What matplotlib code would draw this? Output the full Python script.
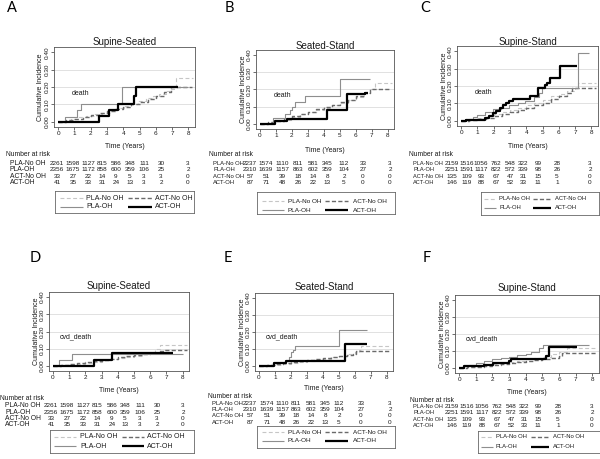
import matplotlib
matplotlib.use("Agg")
import matplotlib.pyplot as plt

plt.rcParams['font.family'] = ['Liberation Sans', 'DejaVu Sans']

# ---------------- DATA ----------------
x_ticks = [0, 1, 2, 3, 4, 5, 6, 7, 8]
y_ticks = [0.0, 0.1, 0.2, 0.3, 0.4]
y_tick_labels = ["0.00", "0.10", "0.20", "0.30", "0.40"]
series_names = ["PLA-No OH", "ACT-No OH", "PLA-OH", "ACT-OH"]
table_rows = ["PLA-No OH", "PLA-OH", "ACT-No OH", "ACT-OH"]
panel_letters = ["A", "B", "C", "D", "E", "F"]
panel_titles = ["Supine-Seated", "Seated-Stand", "Supine-Stand",
                "Supine-Seated", "Seated-Stand", "Supine-Stand"]
panel_outcomes = ["death", "death", "death", "cvd_death", "cvd_death", "cvd_death"]

# Panel A (death, supine-seated)
a_pla_no_t = [0, 0.4, 0.8, 1.2, 1.7, 2.2, 2.7, 3.2, 3.7, 4.1, 4.5, 4.9, 5.4, 5.8, 6.2, 6.6, 6.9, 7.1, 7.25, 8.3]
a_pla_no_y = [0, 0.005, 0.015, 0.025, 0.035, 0.045, 0.053, 0.065, 0.078, 0.09, 0.105, 0.12, 0.135, 0.148, 0.16, 0.175, 0.19, 0.205, 0.25, 0.25]
a_act_no_t = [0, 0.5, 1.0, 1.5, 2.0, 2.5, 3.0, 3.5, 4.0, 4.5, 5.0, 5.5, 6.0, 6.5, 6.9, 8.2]
a_act_no_y = [0, 0.008, 0.018, 0.03, 0.04, 0.05, 0.06, 0.072, 0.085, 0.1, 0.115, 0.13, 0.15, 0.17, 0.2, 0.2]
a_pla_oh_t = [0, 0.4, 1.15, 1.4, 3.9, 8.0]
a_pla_oh_y = [0, 0.03, 0.065, 0.105, 0.2, 0.2]
a_act_oh_t = [0, 2.5, 3.1, 3.65, 4.65, 4.75, 7.35]
a_act_oh_y = [0, 0.033, 0.065, 0.102, 0.15, 0.2, 0.2]

# Panel B (death, seated-stand)
b_pla_no_t = [0, 0.5, 1.0, 1.5, 2.0, 2.5, 3.0, 3.5, 4.0, 4.5, 5.0, 5.5, 6.0, 6.5, 6.9, 7.2, 8.3]
b_pla_no_y = [0, 0.005, 0.015, 0.025, 0.04, 0.055, 0.068, 0.08, 0.095, 0.108, 0.123, 0.14, 0.158, 0.18, 0.2, 0.24, 0.24]
b_act_no_t = [0, 0.5, 1.0, 1.5, 2.0, 2.5, 3.0, 3.5, 4.0, 4.5, 5.0, 5.5, 6.0, 6.5, 6.9, 8.2]
b_act_no_y = [0, 0.008, 0.018, 0.03, 0.045, 0.058, 0.07, 0.085, 0.1, 0.11, 0.125, 0.14, 0.16, 0.18, 0.205, 0.205]
b_pla_oh_t = [0, 0.8, 1.55, 1.85, 2.0, 2.2, 2.85, 5.0, 6.9]
b_pla_oh_y = [0, 0.033, 0.055, 0.08, 0.10, 0.13, 0.165, 0.26, 0.26]
b_act_oh_t = [0, 0.95, 1.7, 4.2, 5.45, 6.6, 6.8]
b_act_oh_y = [0, 0.014, 0.028, 0.08, 0.172, 0.178, 0.178]

# Panel C (death, supine-stand)
c_pla_no_t = [0, 0.5, 1.0, 1.5, 2.0, 2.5, 3.0, 3.5, 4.0, 4.5, 5.0, 5.5, 6.0, 6.5, 7.0, 7.2, 8.3]
c_pla_no_y = [0, 0.005, 0.015, 0.025, 0.037, 0.05, 0.062, 0.075, 0.088, 0.1, 0.12, 0.14, 0.155, 0.17, 0.19, 0.22, 0.22]
c_act_no_t = [0, 0.5, 1.0, 1.5, 2.0, 2.5, 3.0, 3.5, 4.0, 4.5, 5.0, 5.5, 6.0, 6.5, 6.8, 8.3]
c_act_no_y = [0, 0.003, 0.01, 0.018, 0.027, 0.037, 0.048, 0.06, 0.075, 0.09, 0.105, 0.125, 0.14, 0.16, 0.19, 0.19]
c_pla_oh_t = [0, 0.2, 0.5, 0.72, 1.0, 1.45, 1.95, 2.45, 2.95, 3.5, 3.9, 4.5, 4.8, 4.95, 7.2, 7.85]
c_pla_oh_y = [0, 0.005, 0.012, 0.02, 0.035, 0.05, 0.065, 0.075, 0.09, 0.105, 0.115, 0.135, 0.16, 0.19, 0.388, 0.388]
c_act_oh_t = [0, 0.3, 1.48, 1.74, 1.95, 2.15, 2.36, 2.56, 2.73, 2.97, 3.18, 4.2, 4.72, 5.13, 5.27, 5.44, 6.05, 7.14]
c_act_oh_y = [0, 0.006, 0.016, 0.03, 0.043, 0.058, 0.074, 0.09, 0.1, 0.113, 0.124, 0.142, 0.186, 0.206, 0.22, 0.247, 0.316, 0.316]

# Panel D (cvd_death, supine-seated)
d_pla_no_t = [0, 0.5, 1.0, 1.5, 2.0, 2.5, 3.0, 3.5, 4.0, 4.5, 5.0, 5.5, 6.0, 6.3, 6.6, 8.3]
d_pla_no_y = [0, 0.003, 0.008, 0.013, 0.018, 0.025, 0.032, 0.04, 0.047, 0.053, 0.06, 0.067, 0.08, 0.1, 0.123, 0.123]
d_act_no_t = [0, 0.5, 1.0, 1.5, 2.0, 2.5, 3.0, 3.5, 4.0, 4.5, 5.0, 5.5, 6.0, 6.5, 6.9, 8.3]
d_act_no_y = [0, 0.005, 0.01, 0.015, 0.02, 0.028, 0.035, 0.042, 0.05, 0.056, 0.062, 0.068, 0.075, 0.085, 0.092, 0.092]
d_pla_oh_t = [0, 0.37, 1.15, 8.0]
d_pla_oh_y = [0, 0.033, 0.068, 0.068]
d_act_oh_t = [0, 2.5, 3.63, 7.4]
d_act_oh_y = [0, 0.033, 0.072, 0.072]

# Panel E (cvd_death, seated-stand)
e_pla_no_t = [0, 0.5, 1.0, 1.5, 2.0, 2.5, 3.0, 3.5, 4.0, 4.5, 5.0, 5.5, 6.0, 6.3, 6.4, 8.3]
e_pla_no_y = [0, 0.003, 0.008, 0.013, 0.018, 0.023, 0.03, 0.036, 0.043, 0.05, 0.058, 0.068, 0.08, 0.095, 0.118, 0.118]
e_act_no_t = [0, 0.5, 1.0, 1.5, 2.0, 2.5, 3.0, 3.5, 4.0, 4.5, 5.0, 5.5, 5.9, 6.1, 8.2]
e_act_no_y = [0, 0.004, 0.01, 0.016, 0.022, 0.028, 0.033, 0.04, 0.046, 0.052, 0.058, 0.063, 0.07, 0.09, 0.09]
e_pla_oh_t = [0, 0.9, 1.6, 1.85, 2.0, 2.15, 2.25, 5.0, 6.8]
e_pla_oh_y = [0, 0.015, 0.03, 0.05, 0.08, 0.095, 0.115, 0.212, 0.212]
e_act_oh_t = [0, 0.92, 1.7, 5.4, 6.75]
e_act_oh_y = [0, 0.015, 0.028, 0.128, 0.128]

# Panel F (cvd_death, supine-stand)
f_pla_no_t = [0, 0.5, 1.0, 1.5, 2.0, 2.5, 3.0, 3.5, 4.0, 4.5, 5.0, 5.5, 6.0, 6.5, 8.3]
f_pla_no_y = [0, 0.004, 0.01, 0.016, 0.022, 0.028, 0.035, 0.042, 0.05, 0.058, 0.067, 0.08, 0.095, 0.119, 0.119]
f_act_no_t = [0, 0.5, 1.0, 1.5, 2.0, 2.5, 3.0, 3.5, 4.0, 4.5, 5.0, 5.5, 6.0, 6.2, 8.2]
f_act_no_y = [0, 0.003, 0.008, 0.014, 0.02, 0.025, 0.031, 0.037, 0.043, 0.048, 0.053, 0.06, 0.068, 0.09, 0.09]
f_pla_oh_t = [0, 0.3, 0.6, 1.0, 1.5, 2.0, 2.5, 3.0, 3.5, 4.0, 4.3, 4.8, 5.05, 7.8]
f_pla_oh_y = [0, 0.01, 0.018, 0.027, 0.04, 0.05, 0.058, 0.065, 0.075, 0.085, 0.095, 0.12, 0.138, 0.138]
f_act_oh_t = [0, 0.3, 1.5, 2.05, 3.0, 3.1, 5.23, 5.37, 7.08]
f_act_oh_y = [0, 0.01, 0.017, 0.03, 0.042, 0.05, 0.07, 0.123, 0.123]

# Number at risk
risk_ss_pla_no = [2261, 1598, 1127, 815, 586, 348, 111, 30, 3]
risk_ss_pla_oh = [2356, 1675, 1172, 858, 600, 359, 106, 25, 2]
risk_ss_act_no = [33, 27, 22, 14, 9, 5, 3, 3, 0]
risk_ss_act_oh = [41, 35, 33, 31, 24, 13, 3, 2, 0]

risk_st_pla_no = [2237, 1574, 1110, 811, 581, 345, 112, 33, 3]
risk_st_pla_oh = [2310, 1639, 1157, 863, 602, 359, 104, 27, 2]
risk_st_act_no = [57, 51, 39, 18, 14, 8, 2, 0, 0]
risk_st_act_oh = [87, 71, 48, 26, 22, 13, 5, 0, 0]

risk_sp_pla_no = [2159, 1516, 1056, 762, 548, 322, 99, 28, 3]
risk_sp_pla_oh = [2251, 1591, 1117, 822, 572, 339, 98, 26, 2]
risk_sp_act_no = [135, 109, 93, 67, 47, 31, 15, 5, 0]
risk_sp_act_oh = [146, 119, 88, 67, 52, 33, 11, 1, 0]

# ---------------- ASSEMBLY ----------------
panel_curves = [
    {"PLA-No OH": (a_pla_no_t, a_pla_no_y), "ACT-No OH": (a_act_no_t, a_act_no_y),
     "PLA-OH": (a_pla_oh_t, a_pla_oh_y), "ACT-OH": (a_act_oh_t, a_act_oh_y)},
    {"PLA-No OH": (b_pla_no_t, b_pla_no_y), "ACT-No OH": (b_act_no_t, b_act_no_y),
     "PLA-OH": (b_pla_oh_t, b_pla_oh_y), "ACT-OH": (b_act_oh_t, b_act_oh_y)},
    {"PLA-No OH": (c_pla_no_t, c_pla_no_y), "ACT-No OH": (c_act_no_t, c_act_no_y),
     "PLA-OH": (c_pla_oh_t, c_pla_oh_y), "ACT-OH": (c_act_oh_t, c_act_oh_y)},
    {"PLA-No OH": (d_pla_no_t, d_pla_no_y), "ACT-No OH": (d_act_no_t, d_act_no_y),
     "PLA-OH": (d_pla_oh_t, d_pla_oh_y), "ACT-OH": (d_act_oh_t, d_act_oh_y)},
    {"PLA-No OH": (e_pla_no_t, e_pla_no_y), "ACT-No OH": (e_act_no_t, e_act_no_y),
     "PLA-OH": (e_pla_oh_t, e_pla_oh_y), "ACT-OH": (e_act_oh_t, e_act_oh_y)},
    {"PLA-No OH": (f_pla_no_t, f_pla_no_y), "ACT-No OH": (f_act_no_t, f_act_no_y),
     "PLA-OH": (f_pla_oh_t, f_pla_oh_y), "ACT-OH": (f_act_oh_t, f_act_oh_y)},
]
risk_ss = [risk_ss_pla_no, risk_ss_pla_oh, risk_ss_act_no, risk_ss_act_oh]
risk_st = [risk_st_pla_no, risk_st_pla_oh, risk_st_act_no, risk_st_act_oh]
risk_sp = [risk_sp_pla_no, risk_sp_pla_oh, risk_sp_act_no, risk_sp_act_oh]
panel_risk = [risk_ss, risk_st, risk_sp, risk_ss, risk_st, risk_sp]

STYLE = {
    "PLA-No OH": dict(color="#c6c6c6", lw=0.8, ls=(0, (3.5, 2.2))),
    "ACT-No OH": dict(color="#6a6a6a", lw=1.0, ls=(0, (3.0, 1.6))),
    "PLA-OH": dict(color="#8e8e8e", lw=0.8, ls="-"),
    "ACT-OH": dict(color="#000000", lw=1.6, ls="-"),
}

# layout in pixels
LAYOUT = [
    dict(box=(54, 47, 195, 127), title_y=42, time_y=146, nar=(6, 154), lab_x=10,
         rows=[163.5, 169.8, 176.1, 182.4], cols=[57, 73, 88, 102, 116, 130, 144, 161, 188],
         leg=(55, 191, 194, 213), leg_rows=(198, 207), leg_off=(5, 28, 31, 73, 97, 100),
         lab_fs=4.9, leg_fs=5.0, letter=(12, 8)),
    dict(box=(256, 50, 394, 129), title_y=46, time_y=150, nar=(209, 155), lab_x=213,
         rows=[163.5, 169.8, 176.1, 182.4], cols=[250, 266, 282, 298, 313, 327, 344, 363, 390],
         leg=(257, 192, 395, 214), leg_rows=(201, 210), leg_off=(5, 27, 31, 68, 91, 96),
         lab_fs=4.2, leg_fs=4.6, letter=(229, 8)),
    dict(box=(457, 46, 598, 126), title_y=42, time_y=146, nar=(409, 155), lab_x=413,
         rows=[163.5, 169.8, 176.1, 182.4], cols=[452, 467, 481, 496, 510, 523, 538, 557, 590],
         leg=(481, 192, 599, 215), leg_off=(3, 15, 18, 52, 70, 74), leg_rows=(199, 208),
         lab_fs=4.1, leg_fs=4.2, letter=(425, 8)),
    dict(box=(49, 292, 189, 371), title_y=286, time_y=390, nar=(0, 398.5), lab_x=5,
         rows=[405.7, 412, 418.3, 424.6], cols=[51, 67, 83, 97, 112, 125, 140, 157, 183],
         leg=(50, 430, 194, 453), leg_rows=(437, 446), leg_off=(4, 26, 30, 72, 94, 97),
         lab_fs=4.9, leg_fs=5.0, letter=(35, 258)),
    dict(box=(255, 293, 393, 371), title_y=287, time_y=389, nar=(208, 397), lab_x=212,
         rows=[403.3, 409.6, 415.9, 422.2], cols=[250, 267, 282, 296, 311, 325, 339, 361, 390],
         leg=(257, 426, 395, 448), leg_rows=(432, 441), leg_off=(5, 27, 31, 68, 91, 96),
         lab_fs=4.2, leg_fs=4.6, letter=(228, 258)),
    dict(box=(455, 295, 599, 373), title_y=288, time_y=392, nar=(410, 400), lab_x=413,
         rows=[406.7, 413, 419.3, 425.6], cols=[452, 467, 482, 497, 511, 524, 538, 558, 592],
         leg=(478, 431, 600, 453), leg_rows=(437, 447), leg_off=(3, 15, 18, 53, 71, 75),
         lab_fs=4.1, leg_fs=4.2, letter=(427, 258)),
]

W, H = 600, 459
fig = plt.figure(figsize=(6.0, 4.59), dpi=100)
TXT = "#1a1a1a"


def fx(x):
    return x / W


def fy(y):
    return 1 - y / H


def ftext(x, y, s, **kw):
    fig.text(fx(x), fy(y), s, **kw)


for i in range(6):
    L = LAYOUT[i]
    x0, y0, x1, y1 = L["box"]
    ax = fig.add_axes([fx(x0), fy(y1), (x1 - x0) / W, (y1 - y0) / H])
    ax.set_xlim(-0.25, 8.4)
    ax.set_ylim(-0.03, 0.43)
    for g in y_ticks[1:4]:
        ax.axhline(g, color="#dcdcdc", lw=0.6, zorder=0)
    curves = panel_curves[i]
    for k, name in enumerate(series_names):
        t, v = curves[name]
        st = STYLE[name]
        ax.step(t, v, where="post", color=st["color"], lw=st["lw"], ls=st["ls"],
                zorder=2 + k, solid_capstyle="butt", dash_capstyle="butt")
    ax.set_xticks(x_ticks)
    ax.set_xticklabels([str(v) for v in x_ticks])
    ax.set_yticks(y_ticks)
    ax.set_yticklabels(y_tick_labels)
    ax.tick_params(axis="both", direction="out", length=2.2, width=0.5,
                   labelsize=4.6, pad=1.0, colors="#333333", labelcolor=TXT)
    for lab in ax.get_yticklabels():
        lab.set_rotation(90)
        lab.set_va("center")
        lab.set_ha("right")
    for sp in ax.spines.values():
        sp.set_color("#555555")
        sp.set_linewidth(0.6)
    ox = 0.85 if panel_outcomes[i] == "death" else 0.4
    oy = 0.165 if panel_outcomes[i] == "death" else 0.17
    ax.text(ox, oy, panel_outcomes[i], fontsize=5, color=TXT, ha="left", va="center")

    cx = (x0 + x1) / 2
    ftext(cx, L["title_y"], panel_titles[i], fontsize=7, ha="center", va="center", color=TXT)
    ftext(x0 - 13, (y0 + y1) / 2, "Cumulative Incidence", fontsize=5, rotation=90,
          ha="center", va="center", color=TXT)
    ftext(cx, L["time_y"], "Time (Years)", fontsize=5, ha="center", va="center", color=TXT)
    ftext(L["nar"][0], L["nar"][1], "Number at risk", fontsize=4.9, ha="left", va="center", color=TXT)
    risk = panel_risk[i]
    for r, name in enumerate(table_rows):
        ry = L["rows"][r]
        ftext(L["lab_x"], ry, name, fontsize=L["lab_fs"], ha="left", va="center", color=TXT)
        for c, n in enumerate(risk[r]):
            ftext(L["cols"][c], ry, str(n), fontsize=4.6, ha="center", va="center", color=TXT)

    # legend
    lx0, ly0, lx1, ly1 = L["leg"]
    lax = fig.add_axes([fx(lx0), fy(ly1), (lx1 - lx0) / W, (ly1 - ly0) / H])
    lax.set_xlim(0, lx1 - lx0)
    lax.set_ylim(ly1 - ly0, 0)
    lax.set_xticks([])
    lax.set_yticks([])
    for sp in lax.spines.values():
        sp.set_color("#666666")
        sp.set_linewidth(0.6)
    a, b, c, d, e, f = L["leg_off"]
    r1 = L["leg_rows"][0] - ly0
    r2 = L["leg_rows"][1] - ly0
    entries = [("PLA-No OH", a, b, c, r1), ("ACT-No OH", d, e, f, r1),
               ("PLA-OH", a, b, c, r2), ("ACT-OH", d, e, f, r2)]
    for name, la, lb, tx, ry in entries:
        st = STYLE[name]
        lax.plot([la, lb], [ry, ry], color=st["color"], lw=st["lw"], ls=st["ls"],
                 solid_capstyle="butt", dash_capstyle="butt")
        lax.text(tx, ry, name, fontsize=L["leg_fs"], ha="left", va="center", color=TXT)

    ftext(L["letter"][0], L["letter"][1], panel_letters[i], fontsize=10.5,
          family=["Lato", "DejaVu Sans"], ha="center", va="center", color="#000000")

fig.savefig("out.png", dpi=100, facecolor="white")
